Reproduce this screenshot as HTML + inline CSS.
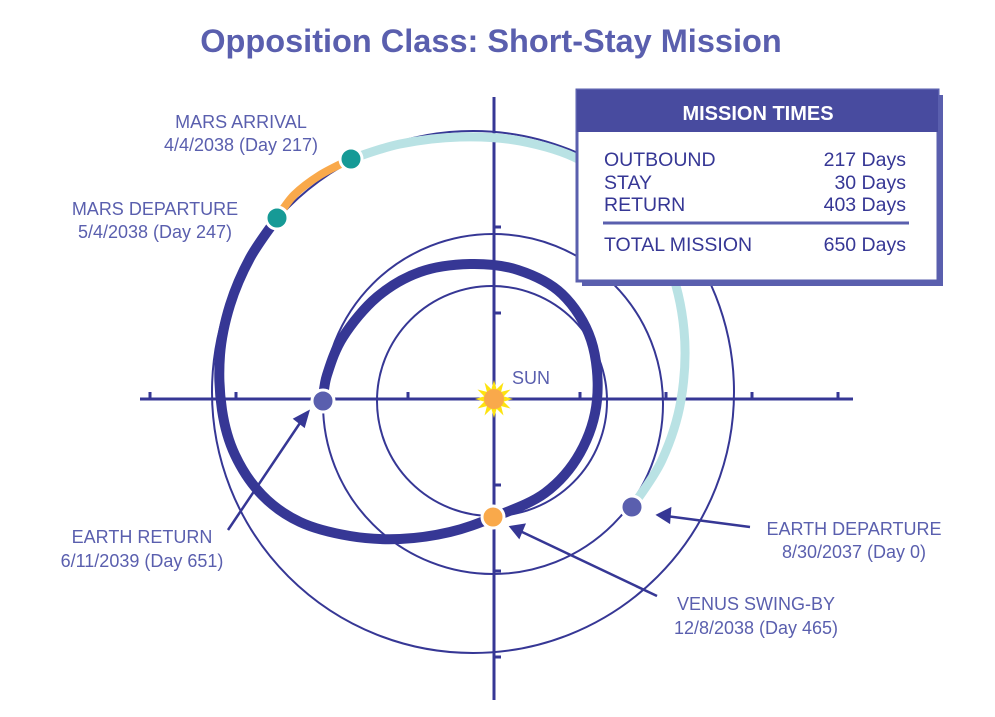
<!DOCTYPE html>
<html><head><meta charset="utf-8">
<style>
body{margin:0;background:#fff;width:995px;height:717px;overflow:hidden;font-family:"Liberation Sans",sans-serif}
svg{position:absolute;left:0;top:0}
</style></head>
<body>
<svg width="995" height="717" viewBox="0 0 995 717" id="chart">
<text x="491" y="52" text-anchor="middle" font-size="32.5" font-weight="bold" fill="#5a5fae">Opposition Class: Short-Stay Mission</text>
<g id="orbits"></g>
<g id="axes"></g>
<g id="traj"></g>
<g id="markers"></g>
<g id="labels" font-size="18" fill="#5a5fae">
<text x="241" y="128" text-anchor="middle">MARS ARRIVAL</text>
<text x="241" y="151" text-anchor="middle">4/4/2038 (Day 217)</text>
<text x="155" y="215" text-anchor="middle">MARS DEPARTURE</text>
<text x="155" y="238" text-anchor="middle">5/4/2038 (Day 247)</text>
<text x="142" y="543" text-anchor="middle">EARTH RETURN</text>
<text x="142" y="567" text-anchor="middle">6/11/2039 (Day 651)</text>
<text x="854" y="535" text-anchor="middle">EARTH DEPARTURE</text>
<text x="854" y="558" text-anchor="middle">8/30/2037 (Day 0)</text>
<text x="756" y="610" text-anchor="middle">VENUS SWING-BY</text>
<text x="756" y="634" text-anchor="middle">12/8/2038 (Day 465)</text>
<text x="512" y="384">SUN</text>
</g>
<g stroke="#363795" stroke-width="2.5" fill="#363795">
<line x1="228" y1="530" x2="302" y2="420"/><polygon points="308,412 295,419 304,426"/>
<line x1="750" y1="527" x2="666" y2="516"/><polygon points="658,515 670,509 669,522"/>
<line x1="657" y1="596" x2="520" y2="531"/><polygon points="511,527 524,525 519,537"/>
</g>
<g>
<rect x="582" y="95" width="361" height="191" fill="#5a5fae"/>
<rect x="577" y="90" width="361" height="191" fill="#fff" stroke="#5a5fae" stroke-width="3"/>
<rect x="577" y="90" width="361" height="42" fill="#484b9f"/>
<text x="758" y="120" text-anchor="middle" font-size="20" font-weight="bold" fill="#fff">MISSION TIMES</text>
<g font-size="19.5" fill="#363795">
<text x="604" y="166">OUTBOUND</text><text x="906" y="166" text-anchor="end">217 Days</text>
<text x="604" y="189">STAY</text><text x="906" y="189" text-anchor="end">30 Days</text>
<text x="604" y="211">RETURN</text><text x="906" y="211" text-anchor="end">403 Days</text>
<text x="604" y="251">TOTAL MISSION</text><text x="906" y="251" text-anchor="end">650 Days</text>
</g>
<line x1="603" y1="223" x2="909" y2="223" stroke="#5a5fae" stroke-width="3"/>
</g>
</svg>
<script>
const NS="http://www.w3.org/2000/svg";
const orbitNames=["venus-orbit","earth-orbit","mars-orbit"];
const orbitCx=[492,493,473];
const orbitCy=[401,404,392];
const orbitR=[115,170,261];
const xTicks=[-4,-3,-2,-1,1,2,3,4];
const yTicks=[-3,-2,-1,1,2,3];
const outboundX=[632,662,681,684,668,632,580,520,460,400,351];
const outboundY=[507,460,400,330,262,200,160,141,137,144,159];
const returnX=[277,250,230,220,222,235,262,300,350,400,450,494,545,580,597,591,562,518,470,420,377,343,327,323];
const returnY=[218,258,305,355,410,455,495,522,536,539,532,517,493,453,400,340,294,270,264,272,297,337,375,399];
const stayX=[351,320,294,277];
const stayY=[159,175,195,218];
const cx=494,cy=399,unit=86;
const X=v=>cx+v*unit, Y=v=>cy+v*unit;
function el(t,a,p){const e=document.createElementNS(NS,t);for(const k in a)e.setAttribute(k,a[k]);document.getElementById(p).appendChild(e);return e;}
orbitR.forEach((r,i)=>{const c=el("circle",{cx:orbitCx[i],cy:orbitCy[i],r:r,fill:"none",stroke:"#363795","stroke-width":2},"orbits");

});
let a=el("line",{x1:140,y1:cy,x2:853,y2:cy,stroke:"#363795","stroke-width":3},"axes");


a=el("line",{x1:cx,y1:97,x2:cx,y2:700,stroke:"#363795","stroke-width":3},"axes");


xTicks.forEach(t=>{const l=el("line",{x1:X(t),y1:cy,x2:X(t),y2:cy-7,stroke:"#363795","stroke-width":3},"axes");

});
yTicks.forEach(t=>{const l=el("line",{x1:cx,y1:Y(t),x2:cx+7,y2:Y(t),stroke:"#363795","stroke-width":3},"axes");

});
function spline(xs,ys){let d="M"+xs[0]+","+ys[0];for(let i=0;i<xs.length-1;i++){const p0=[xs[Math.max(i-1,0)],ys[Math.max(i-1,0)]],p1=[xs[i],ys[i]],p2=[xs[i+1],ys[i+1]],p3=[xs[Math.min(i+2,xs.length-1)],ys[Math.min(i+2,xs.length-1)]];
d+=" C"+(p1[0]+(p2[0]-p0[0])/6)+","+(p1[1]+(p2[1]-p0[1])/6)+" "+(p2[0]-(p3[0]-p1[0])/6)+","+(p2[1]-(p3[1]-p1[1])/6)+" "+p2[0]+","+p2[1];}return d;}
let p=el("path",{d:spline(outboundX,outboundY),fill:"none",stroke:"#b9e2e4","stroke-width":9},"traj");


p=el("path",{d:spline(stayX,stayY),fill:"none",stroke:"#f9a94b","stroke-width":8},"traj");


p=el("path",{d:spline(returnX,returnY),fill:"none",stroke:"#363795","stroke-width":10},"traj");


const star=[];for(let i=0;i<24;i++){const r=i%2?10:19,a2=i*Math.PI/12;star.push((cx+r*Math.sin(a2)).toFixed(1)+","+(cy-r*Math.cos(a2)).toFixed(1));}
let s=el("polygon",{points:star.join(" "),fill:"#fde30f"},"markers");


const mk=[[351,159,"#169a96","mars-arrival-marker"],[277,218,"#169a96","mars-departure-marker"],[323,401,"#5a5fae","earth-return-marker"],[632,507,"#5a5fae","earth-departure-marker"],[493,517,"#f9a94b","venus-swingby-marker"],[494,399,"#f9a94b","sun-core"]];
mk.forEach(m=>{const c=el("circle",{cx:m[0],cy:m[1],r:m[3]=="sun-core"?10:11,fill:m[2],stroke:m[3]=="sun-core"?"none":"#fff","stroke-width":3},"markers");

});
</script>
</body></html>
